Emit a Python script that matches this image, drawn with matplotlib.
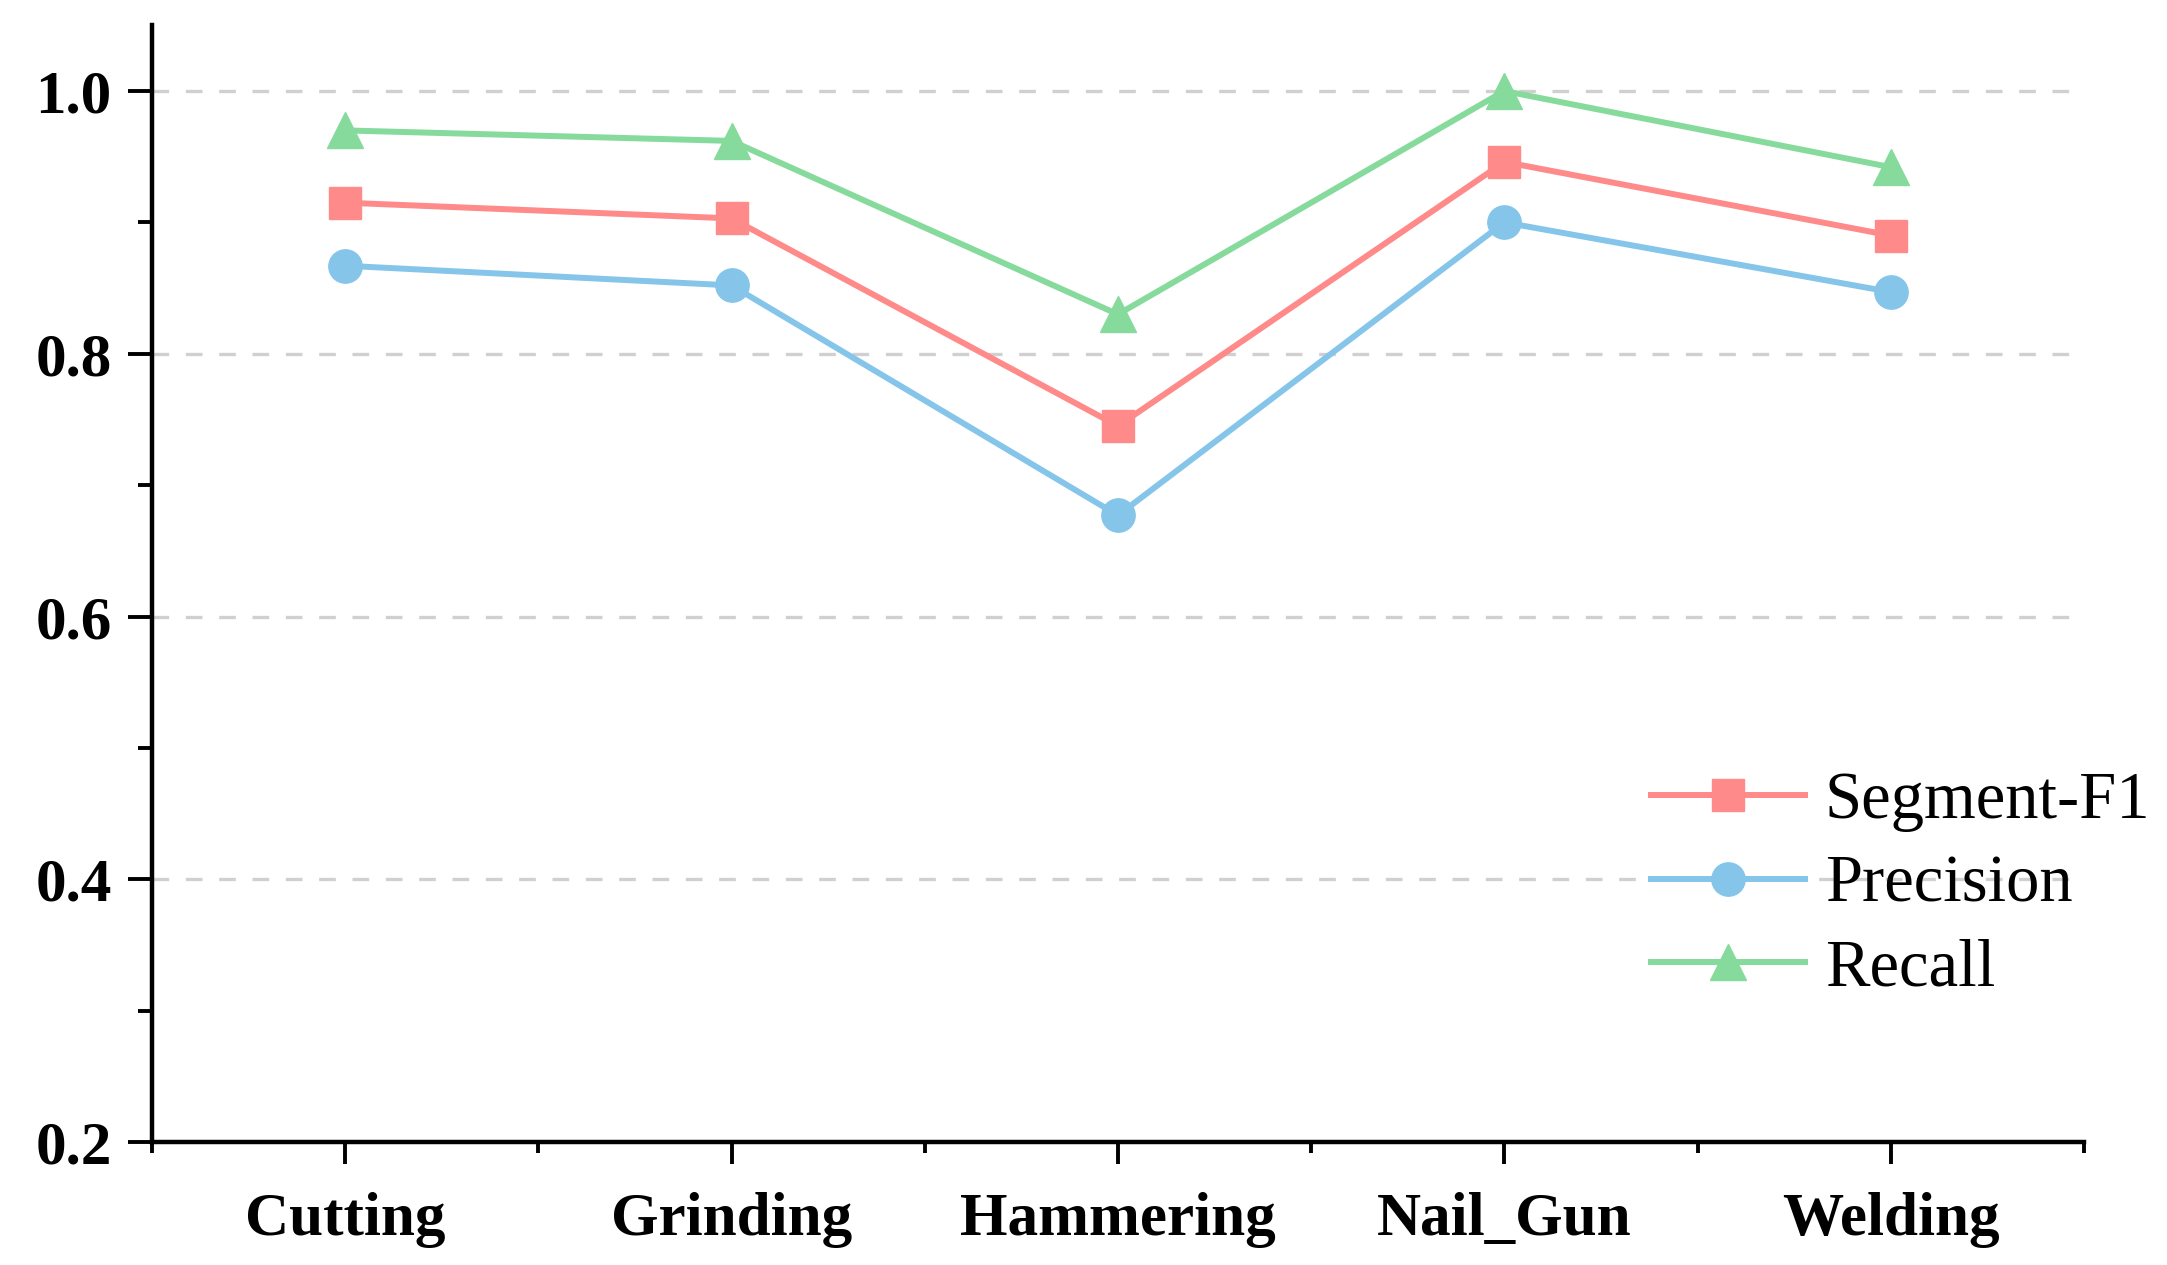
import matplotlib

matplotlib.use("Agg")
import matplotlib.pyplot as plt
from matplotlib.ticker import MultipleLocator

plt.rcParams["font.family"] = ["Liberation Serif", "DejaVu Serif"]

activities = ["Cutting", "Grinding", "Hammering", "Nail_Gun", "Welding"]
segment_f1 = [0.915, 0.903, 0.745, 0.946, 0.890]
precision = [0.867, 0.852, 0.677, 0.900, 0.847]
recall = [0.970, 0.962, 0.830, 1.000, 0.942]

RED = "#FF8A8A"
BLUE = "#86C5EA"
GREEN = "#86DA9C"

fig = plt.figure(figsize=(21.67, 12.65), dpi=100)
ax = fig.add_axes([0.0701, 0.0972, 0.8916, 0.8828])

x = list(range(1, len(activities) + 1))
ax.plot(x, segment_f1, marker="s", color=RED, label="Segment-F1", linewidth=4.3, markersize=23)
ax.plot(x, precision, marker="o", color=BLUE, label="Precision", linewidth=4.3, markersize=24)
ax.plot(x, recall, marker="^", color=GREEN, label="Recall", linewidth=4.3, markersize=26)

ax.set_xlim(0.5, 5.5)
ax.set_ylim(0.2, 1.05)
ax.set_xticks(x, activities)
ax.xaxis.set_minor_locator(MultipleLocator(1, offset=0.5))
ax.yaxis.set_major_locator(MultipleLocator(0.2))
ax.yaxis.set_minor_locator(MultipleLocator(0.1))
ax.yaxis.set_major_formatter(lambda v, pos: f"{v:.1f}")

for s in ("top", "right"):
    ax.spines[s].set_visible(False)
for s in ("left", "bottom"):
    ax.spines[s].set_linewidth(3.2)

ax.tick_params(axis="both", which="major", direction="out", width=2.8, labelsize=44)
ax.tick_params(axis="x", which="major", length=16, pad=20)
ax.tick_params(axis="y", which="major", length=17, pad=12)
ax.tick_params(axis="x", which="minor", length=8, width=2.8)
ax.tick_params(axis="y", which="minor", length=10, width=2.8)
for lab in ax.get_xticklabels() + ax.get_yticklabels():
    lab.set_fontweight("bold")

for yv in (0.4, 0.6, 0.8, 1.0):
    ax.axhline(yv, color="#D0D0D0", linewidth=2.4, linestyle=(0, (5, 5)), zorder=0)

fig.legend(loc="center left", bbox_to_anchor=(0.762, 0.300), frameon=False,
           fontsize=48, handlelength=2.3, handletextpad=0.3, labelspacing=0.34,
           borderpad=0, borderaxespad=0)

fig.savefig("out.png", dpi=100)
